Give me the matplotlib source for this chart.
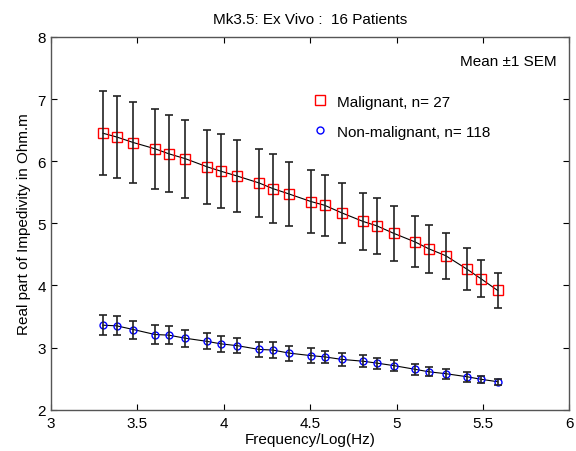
import numpy as np
import matplotlib.pyplot as plt
from matplotlib.lines import Line2D

plt.rcParams['font.family'] = ['Liberation Sans', 'DejaVu Sans']
plt.rcParams['font.size'] = 11

# log10 of the measurement frequencies
log_freq = [3.301, 3.380, 3.477, 3.602, 3.681, 3.778, 3.903, 3.982,
            4.079, 4.204, 4.283, 4.380, 4.505, 4.584, 4.681, 4.806,
            4.885, 4.982, 5.107, 5.186, 5.283, 5.408, 5.487, 5.584]

malignant_mean = [6.45, 6.39, 6.30, 6.20, 6.12, 6.04, 5.91, 5.84,
                  5.76, 5.65, 5.56, 5.47, 5.35, 5.29, 5.17, 5.03,
                  4.96, 4.84, 4.70, 4.59, 4.48, 4.26, 4.11, 3.92]
malignant_sem = [0.68, 0.66, 0.65, 0.64, 0.62, 0.63, 0.60, 0.60,
                 0.58, 0.55, 0.55, 0.52, 0.51, 0.49, 0.48, 0.46,
                 0.45, 0.44, 0.41, 0.39, 0.37, 0.34, 0.30, 0.28]

benign_mean = [3.36, 3.35, 3.29, 3.21, 3.20, 3.15, 3.10, 3.06,
               3.03, 2.97, 2.96, 2.91, 2.87, 2.85, 2.81, 2.78,
               2.75, 2.71, 2.65, 2.61, 2.58, 2.53, 2.49, 2.45]
benign_sem = [0.16, 0.155, 0.145, 0.15, 0.145, 0.135, 0.13, 0.13,
              0.125, 0.12, 0.13, 0.12, 0.12, 0.10, 0.10, 0.10,
              0.09, 0.085, 0.085, 0.075, 0.08, 0.08, 0.06, 0.05]

fig = plt.figure(figsize=(5.76, 4.52), dpi=100)
ax = fig.add_axes([0.0885, 0.0914, 0.9002, 0.8246])

# mean curves with markers
ax.plot(log_freq, malignant_mean, color='black', lw=0.8, zorder=2)
ax.plot(log_freq, malignant_mean, ls='none', marker='s', ms=7.5,
        mfc='none', mec='red', mew=1.0, zorder=3)
ax.plot(log_freq, benign_mean, color='black', lw=0.8, zorder=2)
ax.plot(log_freq, benign_mean, ls='none', marker='o', ms=5,
        mfc='none', mec='blue', mew=1.0, zorder=3)

# error bars (mean +-1 SEM)
ax.errorbar(log_freq, malignant_mean, yerr=malignant_sem, fmt='none',
            ecolor='#222222', elinewidth=1.2, capsize=2.9, capthick=1.2, zorder=4)
ax.errorbar(log_freq, benign_mean, yerr=benign_sem, fmt='none',
            ecolor='#222222', elinewidth=1.2, capsize=2.9, capthick=1.2, zorder=4)

ax.set_xlim(3, 6)
ax.set_ylim(2, 8)
ax.set_xticks([3, 3.5, 4, 4.5, 5, 5.5, 6])
ax.set_xticklabels(['3', '3.5', '4', '4.5', '5', '5.5', '6'])
ax.set_yticks([2, 3, 4, 5, 6, 7, 8])
ax.tick_params(direction='in', top=True, right=True, length=4, width=0.8,
               colors='black', labelsize=11)
ax.tick_params(axis='x', pad=4.5)
for s in ax.spines.values():
    s.set_color('#555555')
    s.set_linewidth(1.0)

ax.set_title('Mk3.5: Ex Vivo :  16 Patients', fontsize=11, pad=10)
ax.set_xlabel('Frequency/Log(Hz)', fontsize=11, labelpad=1.5)
ax.set_ylabel('Real part of Impedivity in Ohm.m', fontsize=11, labelpad=5)

ax.text(0.975, 0.935, 'Mean \u00b11 SEM', transform=ax.transAxes,
        ha='right', va='center', fontsize=11)

handles = [Line2D([], [], ls='none', marker='s', ms=7.5, mfc='none', mec='red', mew=1.0),
           Line2D([], [], ls='none', marker='o', ms=5, mfc='none', mec='blue', mew=1.0)]
ax.legend(handles, ['Malignant, n= 27', 'Non-malignant, n= 118'],
          loc='upper left', bbox_to_anchor=(0.49, 0.866), frameon=False,
          borderpad=0, handlelength=1.0, handletextpad=0.6, labelspacing=1.05,
          fontsize=11)

fig.savefig('out.png', dpi=100)
